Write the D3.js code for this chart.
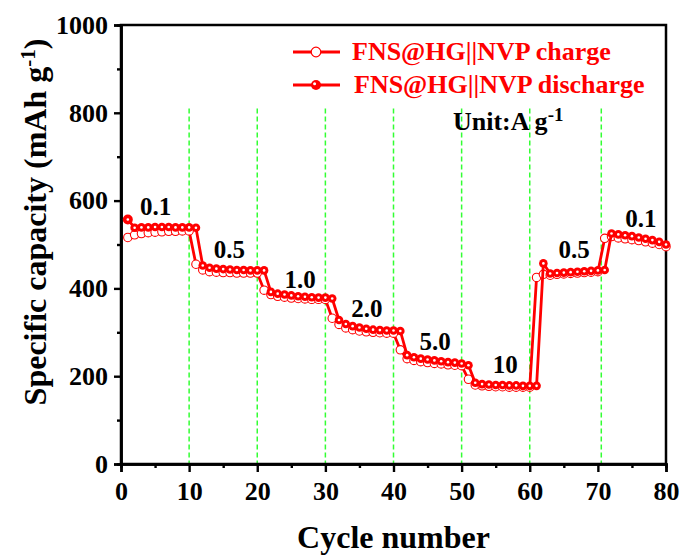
<!DOCTYPE html>
<html><head><meta charset="utf-8">
<script src="https://cdn.jsdelivr.net/npm/d3@7"></script>
<style>body{margin:0;background:#fff}svg{display:block}text{font-family:"Liberation Serif","Times New Roman",serif;font-weight:bold}</style>
</head><body>
<script>
const cycles = d3.range(1, 81);
const discharge = [557,538,539,539,540,540,540,539,539,539,
538,452,447,445,444,443,442,442,441,441,
441,392,388,386,384,382,381,380,379,379,
377,328,319,314,311,308,306,305,304,304,
303,248,243,240,238,236,234,232,231,229,
225,185,182,181,180,180,179,179,178,178,
178,457,434,435,436,437,438,439,440,441,
442,525,523,521,519,516,513,510,506,500];
const charge = [516,522,525,527,528,529,530,530,531,531,
455,442,438,437,436,436,435,435,435,435,
396,386,382,380,378,377,376,375,375,375,
332,318,310,306,303,301,300,299,298,298,
260,240,236,233,231,229,228,226,225,224,
193,180,178,177,176,176,175,175,175,175,
425,432,430,432,433,434,435,436,437,438,
514,518,515,513,511,509,506,503,500,495];
const dividers = [10,20,30,40,50,60,70.5];
const rateLabels = [
  {t:"0.1", x:5.1, y:567},{t:"0.5", x:15.9, y:469},{t:"1.0", x:26.3, y:401},
  {t:"2.0", x:36.1, y:335},{t:"5.0", x:46.1, y:260},{t:"10", x:56.4, y:207},
  {t:"0.5", x:66.5, y:469},{t:"0.1", x:76.3, y:540}];
const xTicks = [0,10,20,30,40,50,60,70,80];
const yTicks = [0,200,400,600,800,1000];
const seriesNames = ["FNS@HG||NVP charge","FNS@HG||NVP discharge"];

const W=681,H=555, L=121,R=666,T=25,B=464;
const svg=d3.select("body").append("svg").attr("width",W).attr("height",H);
const x=d3.scaleLinear().domain([0,80]).range([L,R]);
const y=d3.scaleLinear().domain([0,1000]).range([B,T]);
const red="#ff0000";

// dividers
svg.selectAll(".div").data(dividers).enter().append("line")
 .attr("x1",d=>x(d)).attr("x2",d=>x(d)).attr("y1",y(810)).attr("y2",B)
 .attr("stroke","#33ff33").attr("stroke-width",1.5).attr("stroke-dasharray","5,3");

// frame
svg.append("rect").attr("x",L).attr("y",T).attr("width",R-L).attr("height",B-T)
 .attr("fill","none").attr("stroke","#000").attr("stroke-width",2.5);

// axes
const xAx=svg.append("g").attr("transform",`translate(0,${B})`)
 .call(d3.axisBottom(x).tickValues(xTicks).tickSize(8).tickPadding(10).tickFormat(d3.format("d")));
const xMin=svg.append("g").attr("transform",`translate(0,${B})`)
 .call(d3.axisBottom(x).tickValues(d3.range(5,80,10)).tickSize(4).tickFormat(""));
const yAx=svg.append("g").attr("transform",`translate(${L},0)`)
 .call(d3.axisLeft(y).tickValues(yTicks).tickSize(7).tickPadding(6).tickFormat(d3.format("d")));
const yMin=svg.append("g").attr("transform",`translate(${L},0)`)
 .call(d3.axisLeft(y).tickValues(d3.range(100,1000,200)).tickSize(4).tickFormat(""));
[xAx,xMin,yAx,yMin].forEach(g=>{g.select(".domain").attr("stroke-width",2.5);g.selectAll(".tick line").attr("stroke-width",2.4);});
xAx.selectAll("text").attr("font-size",26).attr("fill","#000");
yAx.selectAll("text").attr("font-size",26).attr("fill","#000");

// titles
svg.append("text").attr("x",(L+R)/2).attr("y",548).attr("text-anchor","middle").attr("font-size",32).text("Cycle number");
const yt=svg.append("text").attr("transform",`translate(46,222) rotate(-90)`).attr("text-anchor","middle").attr("font-size",32);
yt.append("tspan").text("Specific capacity (mAh g");
yt.append("tspan").attr("dy",-11).attr("font-size",21).text("-1");
yt.append("tspan").attr("dy",11).text(")");

// lines
const line=d3.line().x((d,i)=>x(cycles[i])).y(d=>y(d));
svg.append("path").datum(charge).attr("d",line).attr("fill","none").attr("stroke",red).attr("stroke-width",2.8);
svg.selectAll(".c").data(charge).enter().append("circle")
 .attr("cx",(d,i)=>x(cycles[i])).attr("cy",d=>y(d)).attr("r",4.2)
 .attr("fill","#fff").attr("stroke",red).attr("stroke-width",1.1);
svg.append("path").datum(discharge).attr("d",line).attr("fill","none").attr("stroke",red).attr("stroke-width",2.8);
svg.selectAll(".d").data(discharge).enter().append("circle")
 .attr("cx",(d,i)=>x(cycles[i])).attr("cy",d=>y(d)).attr("r",(d,i)=>i===0?5:4.3).attr("fill",red);
svg.selectAll(".dh").data(discharge).enter().append("circle")
 .attr("cx",(d,i)=>x(cycles[i])).attr("cy",d=>y(d)).attr("r",1.3).attr("fill","#fff");

// rate labels
svg.selectAll(".rl").data(rateLabels).enter().append("text")
 .attr("x",d=>x(d.x)).attr("y",d=>y(d.y)).attr("text-anchor","middle").attr("font-size",25).text(d=>d.t);

// legend
const lg=[{y:52,ty:60,tx:352,open:true},{y:85,ty:93,tx:354,open:false}];
lg.forEach((o,i)=>{
  svg.append("line").attr("x1",293).attr("x2",340).attr("y1",o.y).attr("y2",o.y).attr("stroke",red).attr("stroke-width",3);
  if(o.open) svg.append("circle").attr("cx",316).attr("cy",o.y).attr("r",4.8).attr("fill","#fff").attr("stroke",red).attr("stroke-width",1.2);
  else { svg.append("circle").attr("cx",316).attr("cy",o.y).attr("r",5).attr("fill",red);
         svg.append("circle").attr("cx",314.6).attr("cy",o.y-1.3).attr("r",1.5).attr("fill","#fff"); }
  svg.append("text").attr("x",o.tx).attr("y",o.ty).attr("font-size",26).attr("fill",red).text(seriesNames[i]);
});
const ut=svg.append("text").attr("x",453).attr("y",130).attr("font-size",26).attr("fill","#000");
ut.append("tspan").text("Unit:A g");
ut.append("tspan").attr("dy",-9).attr("font-size",19).text("-1");
</script>
</body></html>
